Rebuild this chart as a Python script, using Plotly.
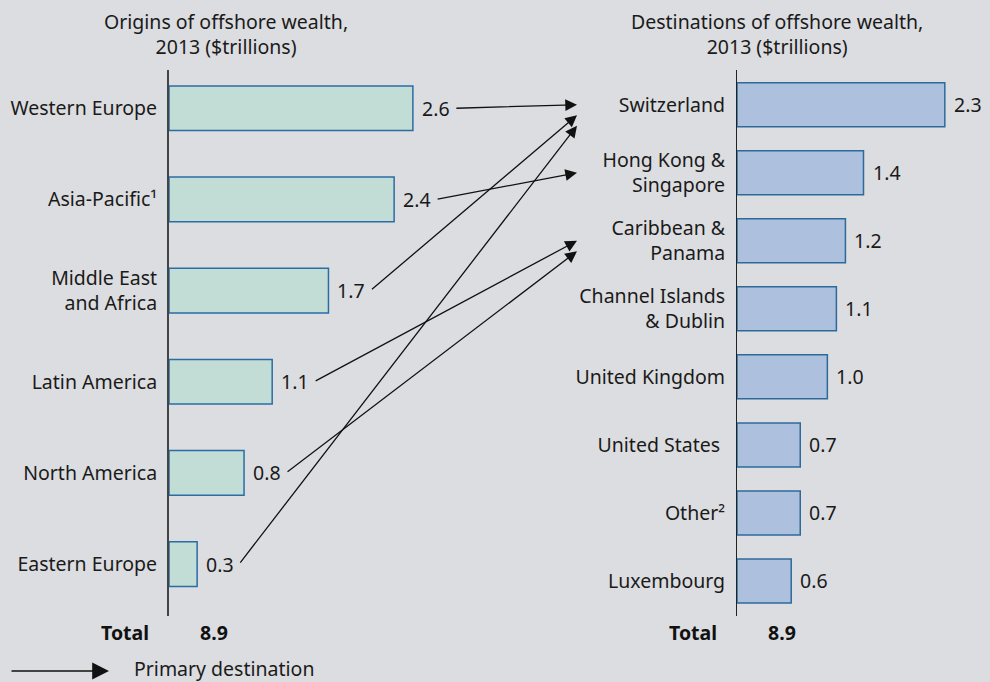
import plotly.graph_objects as go

# ---------------- data ----------------
origins = ["Western Europe", "Asia-Pacific\u00b9", "Middle East<br>and Africa",
           "Latin America", "North America", "Eastern Europe"]
origin_values = [2.6, 2.4, 1.7, 1.1, 0.8, 0.3]

destinations = ["Switzerland", "Hong Kong &<br>Singapore", "Caribbean &<br>Panama",
                "Channel Islands<br>& Dublin", "United Kingdom", "United States\u00a0",
                "Other\u00b2", "Luxembourg"]
destination_values = [2.3, 1.4, 1.2, 1.1, 1.0, 0.7, 0.7, 0.6]

# primary destination (index into destinations) for each origin
primary_destination = [0, 1, 0, 2, 2, 0]

totals = [8.9, 8.9]
titles = ["Origins of offshore wealth,<br>2013 ($trillions)",
          "Destinations of offshore wealth,<br>2013 ($trillions)"]
legend_text = "Primary destination"

# ---------------- layout geometry ----------------
W, H = 990, 682
BG = "#dcdde0"
FONT = "Noto Sans"
TXT = "#1a1a1a"
FS = 19.5

L_X0, L_SCALE, L_RANGE = 169, 93.8, [0, 3.0]
R_X0, R_RANGE = 737, [0, 2.8]
Y_TOP, Y_BOT = 70, 616
L_YRANGE = [len(origins) - 1 + 0.57, -0.42]
R_YRANGE = [len(destinations) - 1 + 0.515, -0.51]


def px_y(idx, yr):
    per = (Y_BOT - Y_TOP) / (yr[0] - yr[1])
    return Y_TOP + (idx - yr[1]) * per


fig = go.Figure()
fig.add_trace(go.Bar(
    x=origin_values, y=origins, orientation="h", xaxis="x", yaxis="y",
    width=0.49, marker=dict(color="#c2ddd6", line=dict(color="#2a6ca4", width=1.5)),
    hoverinfo="x+y"))
fig.add_trace(go.Bar(
    x=destination_values, y=destinations, orientation="h", xaxis="x2", yaxis="y2",
    width=0.647, marker=dict(color="#adc0dd", line=dict(color="#2c6a9c", width=1.5)),
    hoverinfo="x+y"))

ann = []
# value labels
for v, c in zip(origin_values, origins):
    ann.append(dict(x=v, y=c, xref="x", yref="y", text=f"{v:.1f}", showarrow=False,
                    xanchor="left", xshift=7, font=dict(size=FS, color=TXT)))
for v, c in zip(destination_values, destinations):
    ann.append(dict(x=v, y=c, xref="x2", yref="y2", text=f"{v:.1f}", showarrow=False,
                    xanchor="left", xshift=7, font=dict(size=FS, color=TXT)))

# titles
ann.append(dict(x=226 / W, y=1 - 34 / H, xref="paper", yref="paper", text=titles[0],
                showarrow=False, xanchor="center", yanchor="middle",
                font=dict(size=FS, color=TXT)))
ann.append(dict(x=777 / W, y=1 - 34 / H, xref="paper", yref="paper", text=titles[1],
                showarrow=False, xanchor="center", yanchor="middle",
                font=dict(size=FS, color=TXT)))

# totals
for x0, t in zip([L_X0, R_X0], totals):
    ann.append(dict(x=(x0 - 18) / W, y=1 - 632 / H, xref="paper", yref="paper",
                    text="<b>Total</b>", showarrow=False, xanchor="right", yanchor="middle",
                    font=dict(size=FS, color="#111111")))
    ann.append(dict(x=(x0 + 29) / W, y=1 - 632 / H, xref="paper", yref="paper",
                    text=f"<b>{t:.1f}</b>", showarrow=False, xanchor="left", yanchor="middle",
                    font=dict(size=FS, color="#111111")))

# flow arrows
HEAD_X = 577
count = {}
for i, (v, d) in enumerate(zip(origin_values, primary_destination)):
    k = count.get(d, 0)
    count[d] = k + 1
    hx = HEAD_X
    hy = px_y(d, R_YRANGE) + 10.5 * k
    tx = L_X0 + v * L_SCALE + 42
    ty = px_y(i, L_YRANGE)
    ann.append(dict(x=hx / W, y=1 - hy / H, xref="paper", yref="paper", text="",
                    showarrow=True, axref="pixel", ayref="pixel",
                    ax=tx - hx, ay=ty - hy, arrowhead=2, arrowsize=1.8,
                    arrowwidth=1.3, arrowcolor="#111111", standoff=0))

# legend arrow + text
ann.append(dict(x=109 / W, y=1 - 671 / H, xref="paper", yref="paper", text="",
                showarrow=True, axref="pixel", ayref="pixel", ax=-99, ay=0,
                arrowhead=2, arrowsize=2.4, arrowwidth=1.4, arrowcolor="#111111", standoff=0))
ann.append(dict(x=132 / W, y=1 - 668 / H, xref="paper", yref="paper", text=legend_text,
                showarrow=False, xanchor="left", yanchor="middle",
                font=dict(size=FS, color=TXT)))

ydom = [1 - Y_BOT / H, 1 - Y_TOP / H]
fig.update_layout(
    width=W, height=H, margin=dict(l=0, r=0, t=0, b=0),
    paper_bgcolor=BG, plot_bgcolor=BG, showlegend=False,
    font=dict(family=FONT, size=FS, color=TXT),
    xaxis=dict(domain=[L_X0 / W, (L_X0 + L_RANGE[1] * L_SCALE) / W], range=L_RANGE,
               visible=False, anchor="y"),
    yaxis=dict(domain=ydom, range=L_YRANGE, type="category", anchor="x",
               showline=True, linecolor="#444444", linewidth=2, showgrid=False,
               ticks="", ticklabelstandoff=6, tickfont=dict(size=FS, color=TXT)),
    xaxis2=dict(domain=[R_X0 / W, 1.0], range=R_RANGE, visible=False, anchor="y2"),
    yaxis2=dict(domain=ydom, range=R_YRANGE, type="category", anchor="x2",
                showline=True, linecolor="#222222", linewidth=1, showgrid=False,
                ticks="", ticklabelstandoff=7, tickfont=dict(size=FS, color=TXT)),
    annotations=ann,
)

fig.write_html("out.html", config={"displayModeBar": False},
               post_script="document.body.style.margin='0';document.body.style.overflow='hidden';")
